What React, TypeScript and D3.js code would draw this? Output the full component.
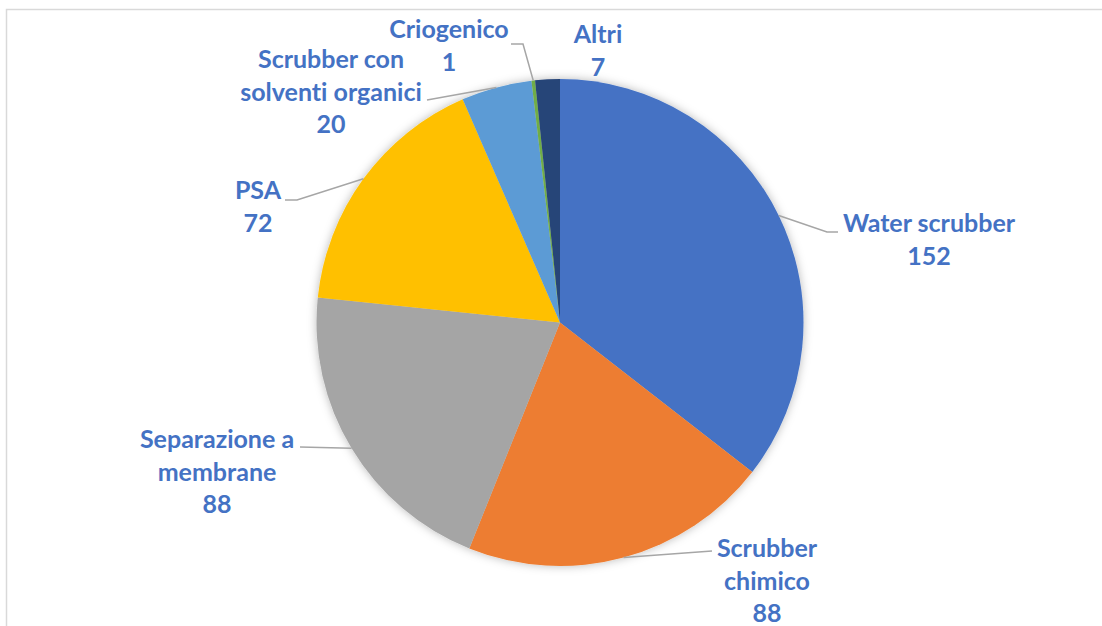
import React from "react";
import * as d3 from "d3";

const categories = [
  "Water scrubber",
  "Scrubber chimico",
  "Separazione a membrane",
  "PSA",
  "Scrubber con solventi organici",
  "Criogenico",
  "Altri",
];
const values = [152, 88, 88, 72, 20, 1, 7];
const colors = ["#4472C4", "#ED7D31", "#A5A5A5", "#FFC000", "#5B9BD5", "#70AD47", "#264478"];

// label text broken into lines (as in the chart)
const labelLines = [
  ["Water scrubber"],
  ["Scrubber", "chimico"],
  ["Separazione a", "membrane"],
  ["PSA"],
  ["Scrubber con", "solventi organici"],
  ["Criogenico"],
  ["Altri"],
];
// label layout: center x, first baseline y, leader polyline points after the slice edge
const labelLayout = [
  { x: 929, y: 232, leader: [[827, 232], [838, 232]] },
  { x: 767, y: 557, leader: [[712, 551]] },
  { x: 217, y: 448, leader: [[300, 447]] },
  { x: 258, y: 199, leader: [[297, 200], [285, 200]] },
  { x: 331, y: 68, leader: [[427, 100]] },
  { x: 449, y: 38, leader: [[523, 44], [511, 44]] },
  { x: 598, y: 43, leader: null },
];

const W = 1102;
const H = 626;
const cx = 560;
const cy = 322.5;
const R = 243.5;
const lineH = 32.5;

export default function App() {
  const pie = d3.pie<number>().sort(null).value((d) => d)(values);
  const arc = d3.arc<d3.PieArcDatum<number>>().innerRadius(0).outerRadius(R);

  return (
    <div style={{ position: "fixed", left: 0, top: 0, width: W, height: H, background: "#fff" }}>
      <svg width={W} height={H} style={{ display: "block" }}>
        <defs>
          <filter id="sh" x="-20%" y="-20%" width="140%" height="140%">
            <feDropShadow dx="0" dy="0" stdDeviation="5" floodColor="#000" floodOpacity="0.28" />
          </filter>
        </defs>
        <rect x={6.5} y={9.5} width={1200} height={800} fill="#fff" stroke="#d9d9d9" strokeWidth={1.5} />
        <g transform={`translate(${cx},${cy})`}>
          <g filter="url(#sh)">
            {pie.map((p, i) => (
              <path key={i} d={arc(p) || ""} fill={colors[i]} />
            ))}
          </g>
        </g>
        {pie.map((p, i) => {
          const L = labelLayout[i];
          if (!L.leader) return null;
          const mid = (p.startAngle + p.endAngle) / 2;
          const sx = cx + R * Math.sin(mid);
          const sy = cy - R * Math.cos(mid);
          const pts = [[sx, sy], ...L.leader];
          return (
            <polyline
              key={"l" + i}
              points={pts.map((q) => q.join(",")).join(" ")}
              fill="none"
              stroke="#A6A6A6"
              strokeWidth={1.5}
            />
          );
        })}
        {pie.map((p, i) => {
          const L = labelLayout[i];
          const lines = [...labelLines[i], String(values[i])];
          return (
            <text
              key={"t" + i}
              x={L.x}
              y={L.y}
              textAnchor="middle"
              fill="#4472C4"
              fontFamily="Lato, 'Open Sans', sans-serif"
              fontWeight={700}
              fontSize={25}
              style={{ fontVariantLigatures: "none" }}
            >
              {lines.map((s, j) => (
                <tspan key={j} x={L.x} y={L.y + j * lineH}>
                  {s}
                </tspan>
              ))}
            </text>
          );
        })}
      </svg>
    </div>
  );
}
